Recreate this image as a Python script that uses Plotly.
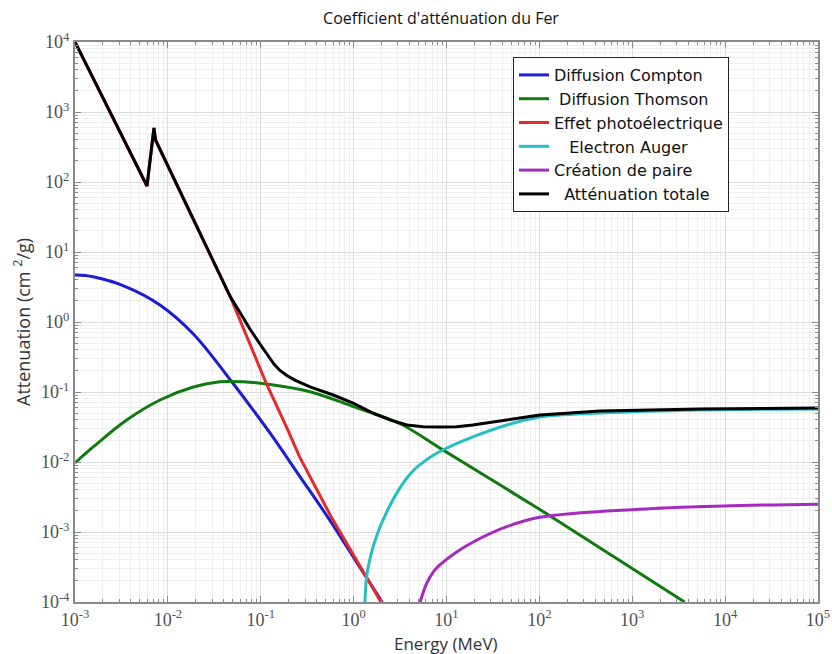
import plotly.graph_objects as go

# ---------------- data ----------------
compton_E = [0.001, 0.00157, 0.0036, 0.00822, 0.0188, 0.049, 0.083, 0.1256, 0.262, 0.54, 1.03, 2.03]
compton_mu = [4.69, 4.43, 3.16, 1.75, 0.674, 0.139, 0.055, 0.0260, 0.0063, 0.00155, 4.07e-4, 1e-4]

thomson_E = [0.001, 0.00157, 0.0036, 0.00822, 0.0188, 0.0364, 0.0646, 0.116, 0.339, 1.0, 3.2, 9.14, 101, 151, 3660]
thomson_mu = [0.0097, 0.0164, 0.0398, 0.0769, 0.118, 0.140, 0.140, 0.130, 0.101, 0.0617, 0.0349, 0.0149, 0.0021, 0.00150, 1e-4]

photo_E = [0.001, 0.00596, 0.00708, 0.00736, 0.0466, 0.1167, 0.196, 0.262, 0.583, 1.97]
photo_mu = [1e4, 87.7, 591, 398, 2.35, 0.126, 0.0286, 0.0118, 0.00158, 1e-4]

auger_E = [1.323, 1.380, 1.461, 1.626, 1.919, 2.459, 2.999, 3.748, 4.57, 5.57, 7.14, 9.14,
           19.2, 44.7, 101, 448, 5350, 1e5]
auger_mu = [1e-4, 2.29e-4, 3.56e-4, 6.23e-4, 1.17e-3, 2.39e-3, 3.84e-3, 5.91e-3, 7.94e-3, 9.84e-3, 0.01239, 0.01484,
            0.0228, 0.0338, 0.044, 0.050, 0.0553, 0.057]

paire_E = [5.2, 6.08, 7.19, 8.49, 12.85, 19.4, 44.5, 101, 1178, 9620, 1e5]
paire_mu = [1e-4, 1.81e-4, 2.68e-4, 3.38e-4, 5.18e-4, 7.2e-4, 1.19e-3, 1.62e-3, 2.11e-3, 2.35e-3, 2.5e-3]

total_E = [0.001, 0.00596, 0.00708, 0.00736, 0.0466, 0.0597, 0.0765, 0.098, 0.1195, 0.1387, 0.161, 0.191,
           0.233, 0.339, 0.603, 1.0, 1.61, 2.46, 3.75, 5.61, 8.49, 12.85, 19.2, 44.7, 101, 448, 5350, 1e5]
total_mu = [1e4, 87.7, 591, 398, 2.35, 1.345, 0.794, 0.485, 0.327, 0.251, 0.203, 0.172,
            0.148, 0.118, 0.0906, 0.069, 0.050, 0.040, 0.0338, 0.0319, 0.0316, 0.0319, 0.0338, 0.040, 0.047,
            0.0535, 0.0572, 0.059]

x_tick_exp = [-3, -2, -1, 0, 1, 2, 3, 4, 5]
y_tick_exp = [-4, -3, -2, -1, 0, 1, 2, 3, 4]

series = [
    ("Diffusion Compton", compton_E, compton_mu, "#1c1cd6", "spline"),
    ("\u00a0Diffusion Thomson", thomson_E, thomson_mu, "#107a10", "spline"),
    ("Effet photoélectrique", photo_E, photo_mu, "#e42a2a", "linear"),
    ("\u00a0\u00a0\u00a0Electron Auger", auger_E, auger_mu, "#25bfc3", "spline"),
    ("Création de paire", paire_E, paire_mu, "#a52ac0", "spline"),
    ("\u00a0\u00a0Atténuation totale", total_E, total_mu, "#000000", "linear"),
]

fig = go.Figure()
for name, xs, ys, col, shape in series:
    ln = dict(color=col, width=3, shape=shape)
    if shape == "spline":
        ln["smoothing"] = 1.0
    fig.add_trace(go.Scatter(x=xs, y=ys, mode="lines", name=name, line=ln))

def minor_vals(lo, hi):
    v = []
    for e in range(lo, hi):
        for m in range(2, 10):
            v.append(m * 10.0 ** e)
    return v

tickfont = dict(family="Liberation Serif, Times New Roman, serif", size=18, color="#505050")
common = dict(type="log", showline=True, linecolor="#8a8a8a", linewidth=2, mirror="allticks",
              ticks="inside", ticklen=6, tickcolor="#8a8a8a", tickwidth=1,
              showgrid=True, gridcolor="#dcdcdc", gridwidth=1, zeroline=False,
              tickfont=tickfont, automargin=False)

fig.update_xaxes(range=[-3, 5], tickmode="array",
                 tickvals=[10.0 ** e for e in x_tick_exp],
                 ticktext=["10<sup>%d</sup>" % e for e in x_tick_exp],
                 minor=dict(tickmode="array", tickvals=minor_vals(-3, 5), ticks="inside", ticklen=3,
                            tickcolor="#8a8a8a", showgrid=True, gridcolor="#efefef", gridwidth=1),
                 **common)
fig.update_yaxes(range=[-4, 4], tickmode="array",
                 tickvals=[10.0 ** e for e in y_tick_exp],
                 ticktext=["10<sup>%d</sup>" % e for e in y_tick_exp],
                 minor=dict(tickmode="array", tickvals=minor_vals(-4, 4), ticks="inside", ticklen=3,
                            tickcolor="#8a8a8a", showgrid=True, gridcolor="#efefef", gridwidth=1),
                 **common)

fig.update_layout(
    width=832, height=654,
    margin=dict(l=75, r=14, t=42, b=52),
    paper_bgcolor="white", plot_bgcolor="white",
    title=dict(text="Coefficient d'atténuation du Fer", x=(441 - 75) / 743, xref="paper", xanchor="center",
               y=1 - 18 / 654, yref="container", yanchor="middle",
               font=dict(family="Open Sans, sans-serif", size=16, color="#111111")),
    legend=dict(x=(513 - 75) / 743, y=(602 - 57) / 560, xanchor="left", yanchor="top",
                bgcolor="white", bordercolor="#222222", borderwidth=1,
                font=dict(family="DejaVu Sans, sans-serif", size=16, color="#111111"),
                tracegroupgap=0, itemwidth=30),
    showlegend=True,
    annotations=[
        dict(text="Energy (MeV)", xref="paper", yref="paper", x=(446 - 75) / 743, y=-41 / 560,
             xanchor="center", yanchor="middle", showarrow=False,
             font=dict(family="Open Sans, sans-serif", size=17, color="#333333")),
        dict(text="Attenuation (cm <sup>2</sup>/g)", xref="paper", yref="paper", x=(22 - 75) / 743, y=0.5,
             xanchor="center", yanchor="middle", textangle=-90, showarrow=False,
             font=dict(family="Open Sans, sans-serif", size=18, color="#333333")),
    ],
)

fig.write_html("out.html")
